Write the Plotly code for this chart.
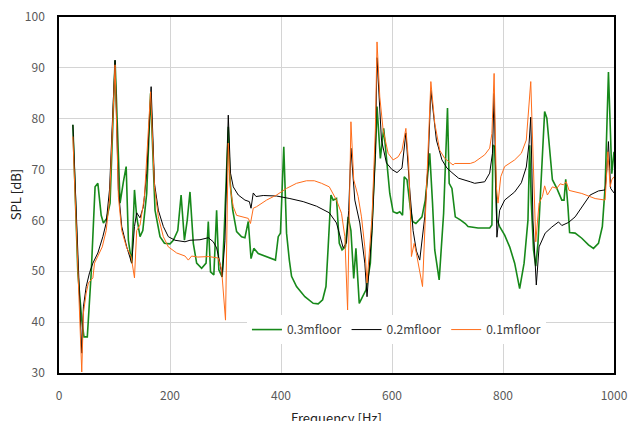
import plotly.graph_objects as go

# 0.3m floor (green)
freq_03 = [25, 34, 41, 45, 51, 58, 65, 70, 76,
           80, 86, 92, 101, 110, 116, 121, 125, 131, 136,
           140, 146, 151, 158, 165, 173, 182, 190, 200, 206,
           214, 220, 226, 231, 236, 242, 248, 257, 265, 269,
           273, 279, 284, 288, 294, 298, 305, 308, 313, 320,
           329, 335, 341, 346, 351, 359, 374, 390, 395, 399,
           405, 410, 415, 419, 428, 443, 458, 467, 475, 481,
           485, 490, 494, 500, 505, 510, 516, 521, 526, 531,
           535, 541, 547, 553, 561, 567, 571, 573, 576, 579,
           585, 590, 596, 602, 609, 614, 619, 622, 627, 633,
           637, 643, 654, 660, 668, 673, 677, 685, 693, 700,
           703, 708, 714, 723, 732, 737, 755, 776, 780, 782,
           785, 789, 794, 803, 812, 821, 830, 838, 845, 848,
           851, 855, 859, 863, 867, 871, 875, 879, 885, 889,
           897, 906, 910, 913, 917, 920, 930, 942, 954, 963,
           972, 979, 984, 990, 996, 1000]
spl_03 = [78.8, 49.6, 40.4, 37.1, 37.1, 49.6, 66.6, 67.3, 61,
          59.5, 60.4, 63.4, 91.5, 63.4, 67.6, 70.6, 56.1, 51.6, 66,
          60.7, 56.8, 58, 65.3, 85, 62, 56.8, 55.5, 55.4, 56.1,
          58, 65, 56.1, 60, 65.6, 55.5, 51.6, 50.6, 51.6, 59.8,
          49.9, 49.3, 62, 50.3, 48.9, 58.8, 78.4, 68, 62, 57.8,
          56.8, 56.6, 59.8, 52.5, 54.5, 53.5, 52.9, 52.2, 56.8, 57.5,
          74.5, 57.5, 52.2, 49, 47, 45, 43.7, 43.6, 44.4, 47,
          54.8, 65, 64, 64.3, 55.5, 54.2, 54.8, 60.7, 58, 48.6,
          54.5, 43.7, 45, 46.3, 51.6, 64.7, 75.8, 82.4, 77.8, 72.2,
          78.1, 72.5, 65.3, 61.7, 61.4, 61.7, 61, 68.6, 68, 62.4,
          59.8, 59.4, 60.7, 64, 73.2, 63.4, 54.2, 48.3, 61.4, 82.1,
          67.3, 66.3, 60.7, 60.1, 59.4, 58.8, 58.5, 58.5, 59.1, 74.8,
          74.5, 60.1, 58.8, 57.1, 54.8, 51.6, 46.6, 51.6, 60.1, 74.8,
          63.4, 54.2, 51, 55.5, 64, 73.2, 81.4, 80.1, 72.5, 68,
          66.3, 64, 64, 68.1, 62.7, 57.6, 57.5, 56.5, 55.2, 54.5,
          55.5, 58.8, 66.6, 89.2, 69.2, 73.5]

# 0.2m floor (black)
freq_02 = [25, 41, 44, 49, 55, 61, 70, 79, 85, 91,
           101, 107, 113, 122, 131, 136, 140, 146, 152, 158,
           166, 172, 179, 188, 197, 209, 227, 236, 254, 269,
           278, 284, 290, 294, 299, 305, 309, 314, 323, 335,
           343, 346, 350, 355, 368, 392, 416, 440, 464, 487,
           500, 508, 512, 518, 522, 526, 533, 542, 551, 555,
           564, 570, 573, 581, 590, 600, 609, 618, 625, 632,
           638, 644, 650, 659, 665, 670, 680, 690, 699, 708,
           720, 741, 749, 767, 776, 781, 784, 789, 794, 803,
           821, 833, 842, 847, 850, 854, 860, 865, 876, 888,
           900, 906, 918, 930, 942, 957, 972, 984, 987, 990,
           994, 1000]
spl_02 = [78.8, 33.9, 43, 47, 49.7, 51.6, 53.6, 56.8, 59.5, 66,
          91.5, 66, 58.8, 54.8, 51.6, 58.8, 61.5, 60.5, 62.7, 69.3,
          86.3, 67.3, 62, 58.8, 56.8, 56.1, 55.8, 56.1, 56.2, 56.6,
          55.8, 54.6, 51.6, 48.9, 56, 80.7, 69.3, 66.6, 65, 64,
          63.7, 62.4, 65.4, 64.7, 64.9, 64.8, 64.3, 63.7, 62.8, 61.5,
          59.5, 56.2, 54.6, 55.6, 62, 74.2, 64, 59.5, 51.6, 45,
          58, 73, 92, 75.8, 71.3, 70, 69.4, 70.3, 77.2, 66,
          58, 54, 52.2, 60.7, 71.2, 85.6, 75.8, 71.9, 70.3, 69.4,
          68.3, 67.6, 67.3, 67.6, 69.3, 73.2, 85, 56.7, 62, 64,
          65.6, 67.4, 70.5, 75.2, 80.3, 60, 47.3, 54.8, 57.5, 58.7,
          59.7, 59, 59.6, 60.7, 62.7, 65, 65.8, 66, 70, 75.5,
          66.3, 65.4]

# 0.1m floor (orange)
freq_01 = [25, 41, 44, 49, 53, 61, 64, 70, 78, 85,
           91, 101, 107, 113, 122, 130, 136, 140, 146, 154,
           165, 172, 179, 188, 197, 212, 227, 233, 239, 250,
           270, 287, 293, 300, 305, 309, 314, 320, 332, 341,
           345, 350, 356, 374, 392, 410, 428, 446, 460, 473,
           487, 500, 509, 515, 520, 526, 531, 539, 545, 551,
           555, 564, 570, 573, 578, 584, 593, 602, 611, 618,
           625, 630, 633, 635, 640, 644, 655, 659, 665, 670,
           677, 686, 695, 704, 710, 713, 741, 749, 767, 776,
           780, 784, 788, 791, 796, 803, 821, 833, 842, 850,
           855, 859, 865, 871, 875, 880, 889, 897, 903, 909,
           914, 919, 942, 966, 984, 989, 993, 996, 1000]
spl_01 = [76.5, 30.2, 41.8, 45.7, 47.7, 48.7, 51.6, 52.9, 54.8, 58,
          64, 90.6, 64.7, 58, 54.6, 52.9, 48.7, 58, 59.1, 64.7,
          85.3, 66.6, 60.7, 56.8, 54.8, 53.6, 53, 52.2, 53, 52.8,
          52.9, 52.6, 50.3, 40.4, 75.2, 66, 62.7, 61, 60.6, 60.4,
          59.4, 62.4, 62.7, 64, 65, 66.3, 67.3, 67.8, 67.8, 67.3,
          66.6, 64, 61.4, 56.8, 42.4, 79.4, 68, 64.7, 60.7, 54.8,
          47.7, 60.7, 77.8, 95.1, 84.3, 77.8, 73.2, 71.9, 72.5, 73.8,
          78.1, 71.2, 62, 52.9, 55.5, 53.5, 47, 58, 74, 87.3,
          79.1, 73.8, 72.2, 71.5, 70.9, 71.2, 71.2, 71.5, 72.9, 74.2,
          77.1, 88.9, 66.6, 63.4, 68.6, 70.6, 71.9, 73.2, 75.8, 87.3,
          68.6, 55.8, 63.4, 64.7, 66.8, 65, 66.6, 66.3, 67.2, 67,
          67.6, 65.9, 65.3, 64.3, 64, 73.5, 66.6, 68, 68.6]

names = ["0.3mfloor", "0.2mfloor", "0.1mfloor"]
colors = ["#17891a", "#000000", "#ff6d1a"]
widths = [1.6, 1.0, 1.0]

x_ticks = [0, 200, 400, 600, 800, 1000]
y_ticks = [30, 40, 50, 60, 70, 80, 90, 100]
x_title = "Frequency [Hz]"
y_title = "SPL [dB]"

FONT = "Noto Sans CJK JP, Noto Sans, sans-serif"

fig = go.Figure()
for fx, fy, n, c, w in zip([freq_03, freq_02, freq_01], [spl_03, spl_02, spl_01],
                           names, colors, widths):
    fig.add_trace(go.Scatter(x=fx, y=fy, mode="lines", name=n,
                             line=dict(color=c, width=w), cliponaxis=True))

fig.update_layout(
    width=628, height=421,
    margin=dict(l=59, r=14, t=17, b=48),
    paper_bgcolor="white", plot_bgcolor="white",
    font=dict(family=FONT, size=12, color="#595959"),
    showlegend=True,
    legend=dict(orientation="h", x=0.608, y=0.122, xanchor="center", yanchor="middle",
                bgcolor="white", font=dict(family=FONT, size=12, color="#404040"),
                itemwidth=30, tracegroupgap=0),
    hovermode=False,
    annotations=[
        dict(text=x_title, xref="paper", yref="paper", x=0.5, y=-0.124,
             xanchor="center", yanchor="middle", showarrow=False,
             font=dict(family=FONT, size=13, color="#222222")),
        dict(text=y_title, xref="paper", yref="paper", x=-0.079, y=0.5,
             xanchor="center", yanchor="middle", showarrow=False, textangle=-90,
             font=dict(family=FONT, size=13, color="#222222")),
    ],
)
fig.update_xaxes(range=[0, 1000], tickvals=x_ticks, showgrid=True, gridcolor="#d4d4d4",
                 gridwidth=1, showline=True, linecolor="#000000", linewidth=1.5, mirror=True,
                 ticks="", zeroline=False, automargin=False, ticklabelstandoff=11,
                 ticklabeloverflow="allow")
fig.update_yaxes(range=[30, 100], tickvals=y_ticks, showgrid=True, gridcolor="#d4d4d4",
                 gridwidth=1, showline=True, linecolor="#000000", linewidth=1.5, mirror=True,
                 ticks="", zeroline=False, automargin=False, ticklabelstandoff=10,
                 ticklabeloverflow="allow")

# remove the browser's default 8px body margin so the figure fills the window
fig.write_html("out.html", config={"displayModeBar": False},
               post_script="document.body.style.margin='0';")
